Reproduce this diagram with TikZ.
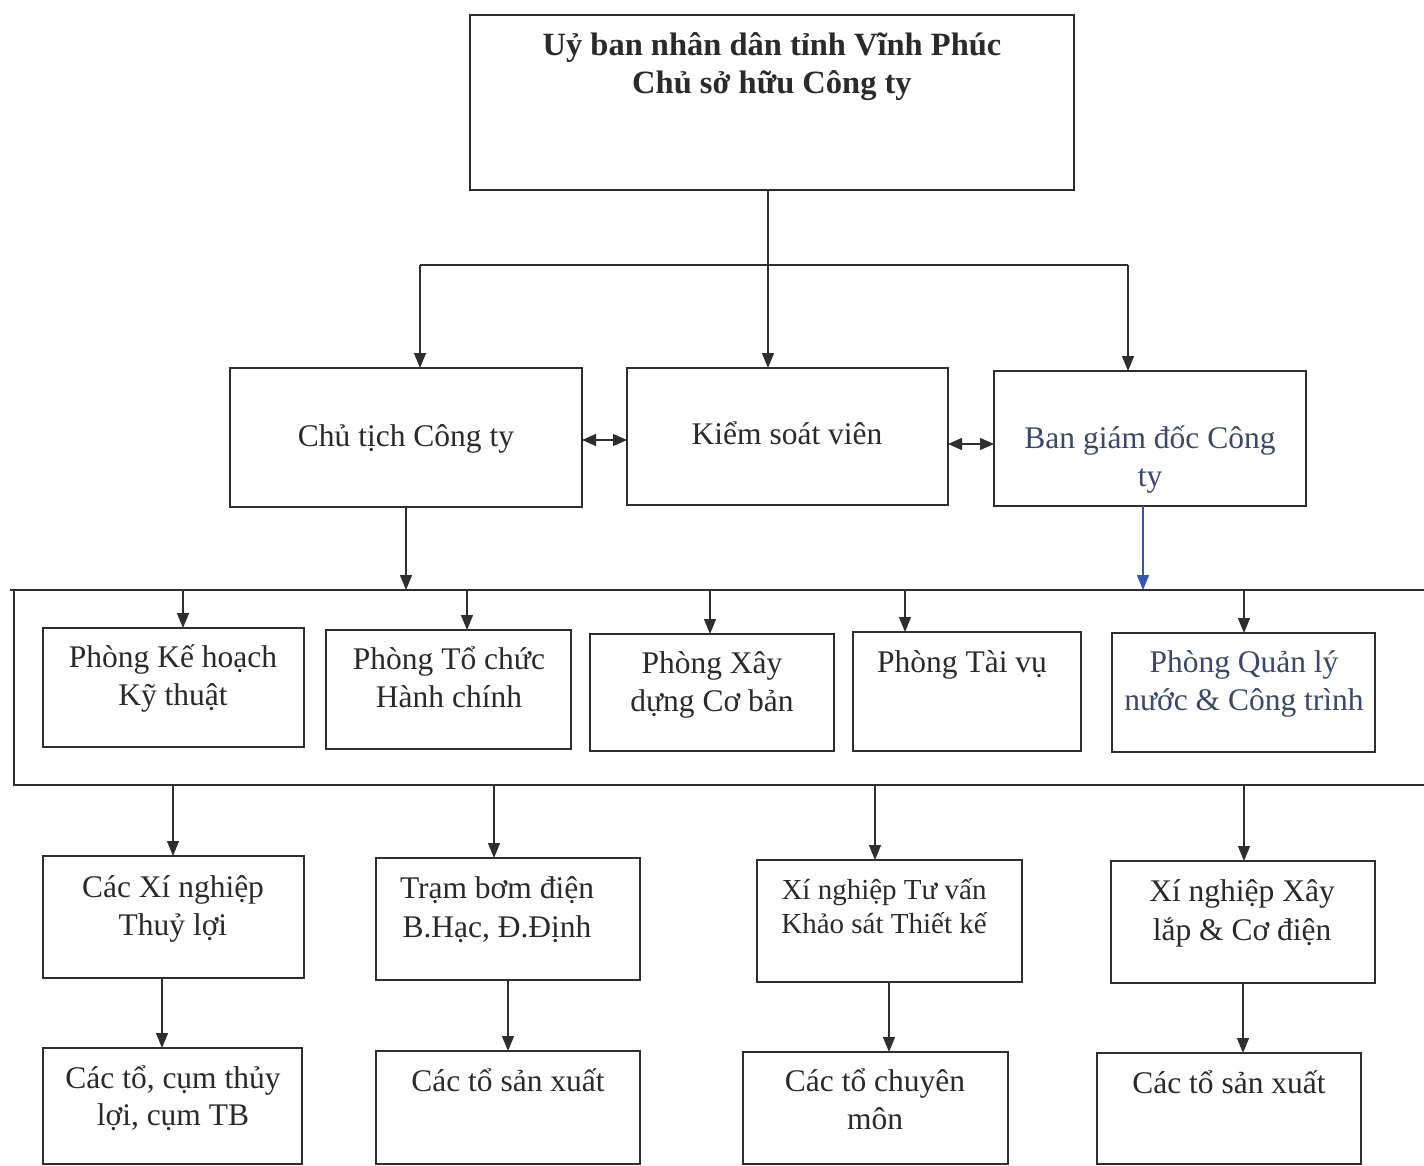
\documentclass[tikz,border=0pt]{standalone}
\usepackage{fontspec}
\setmainfont{Liberation Serif}
\usetikzlibrary{arrows.meta}
\definecolor{ln}{HTML}{2E2E2E}
\definecolor{tx}{HTML}{2A2A2A}
\definecolor{btx}{HTML}{3C4866}
\definecolor{blu}{HTML}{3355B5}
\begin{document}
\begin{tikzpicture}[x=1pt,y=-1pt,
  box/.style={draw=ln,line width=1.3pt,inner sep=0pt,outer sep=0pt,anchor=north west},
  lbl/.style={anchor=base,align=center,text=tx,font=\fontsize{31.5}{38}\selectfont,inner sep=0pt},
  conn/.style={draw=ln,line width=1.3pt},
  arr/.style={conn,-{Triangle[length=15pt,width=12pt]}},
  darr/.style={conn,{Triangle[length=14pt,width=12pt]}-{Triangle[length=14pt,width=12pt]}}]
\useasboundingbox (0,0) rectangle (1424,1166);
% top
\node[box,minimum width=604pt,minimum height=175pt] (top) at (470,15) {};
\node[lbl,font=\fontsize{32.5}{38}\selectfont\bfseries] (toptx) at (772,94) {Uỷ ban nhân dân tỉnh Vĩnh Phúc\\Chủ sở hữu Công ty};
% row 2
\node[box,minimum width=352pt,minimum height=139pt] (ct) at (230,368) {};
\node[lbl] (cttx) at (406,446) {Chủ tịch Công ty};
\node[box,minimum width=321pt,minimum height=137pt] (ks) at (627,368) {};
\node[lbl] (kstx) at (787,444) {Kiểm soát viên};
\node[box,minimum width=312pt,minimum height=135pt] (bg) at (994,371) {};
\node[lbl,text=btx] (bgtx) at (1150,486) {Ban giám đốc Công\\ty};
% row 3
\node[box,minimum width=261pt,minimum height=119pt] (b1) at (43,628) {};
\node[lbl] (b1tx) at (173,705) {Phòng Kế hoạch\\Kỹ thuật};
\node[box,minimum width=245pt,minimum height=119pt] (b2) at (326,630) {};
\node[lbl] (b2tx) at (449,707) {Phòng Tổ chức\\Hành chính};
\node[box,minimum width=244pt,minimum height=117pt] (b3) at (590,634) {};
\node[lbl] (b3tx) at (712,711) {Phòng Xây\\dựng Cơ bản};
\node[box,minimum width=228pt,minimum height=119pt] (b4) at (853,632) {};
\node[lbl] (b4tx) at (962,672) {Phòng Tài vụ};
\node[box,minimum width=263pt,minimum height=119pt] (b5) at (1112,633) {};
\node[lbl,text=btx] (b5tx) at (1244,710) {Phòng Quản lý\\nước \& Công trình};
% row 4
\node[box,minimum width=261pt,minimum height=122pt] (c1) at (43,856) {};
\node[lbl] (c1tx) at (173,935) {Các Xí nghiệp\\Thuỷ lợi};
\node[box,minimum width=264pt,minimum height=122pt] (c2) at (376,858) {};
\node[lbl,font=\fontsize{31.5}{39}\selectfont] (c2tx) at (497,937) {Trạm bơm điện\\B.Hạc, Đ.Định};
\node[box,minimum width=265pt,minimum height=122pt] (c3) at (757,860) {};
\node[lbl,font=\fontsize{29}{34}\selectfont] (c3tx) at (884,933) {Xí nghiệp Tư vấn\\Khảo sát Thiết kế};
\node[box,minimum width=264pt,minimum height=122pt] (c4) at (1111,861) {};
\node[lbl,font=\fontsize{31.5}{39}\selectfont] (c4tx) at (1242,940) {Xí nghiệp Xây\\lắp \& Cơ điện};
% row 5
\node[box,minimum width=259pt,minimum height=116pt] (d1) at (43,1048) {};
\node[lbl,font=\fontsize{31.5}{37}\selectfont] (d1tx) at (173,1125) {Các tổ, cụm thủy\\lợi, cụm TB};
\node[box,minimum width=264pt,minimum height=113pt] (d2) at (376,1051) {};
\node[lbl] (d2tx) at (508,1091) {Các tổ sản xuất};
\node[box,minimum width=265pt,minimum height=112pt] (d3) at (743,1052) {};
\node[lbl] (d3tx) at (875,1129) {Các tổ chuyên\\môn};
\node[box,minimum width=264pt,minimum height=111pt] (d4) at (1097,1053) {};
\node[lbl] (d4tx) at (1229,1093) {Các tổ sản xuất};
% connectors top
\coordinate (hl) at (420,265);
\coordinate (hr) at (1128,265);
\draw[conn] (hl) -- (hr);
\draw[arr] ([xshift=-4pt]top.south) -- ([xshift=-4pt]top.south |- ks.north);
\draw[arr] (hl) -- (hl |- ct.north);
\draw[arr] (hr) -- (hr |- bg.north);
\coordinate (y440) at (0,440);
\coordinate (y444) at (0,444);
\draw[darr] (ct.east |- y440) -- (ks.west |- y440);
\draw[darr] (ks.east |- y444) -- (bg.west |- y444);
% frame
\coordinate (fTL) at (10,590);
\coordinate (fTR) at (1424,590);
\coordinate (fLT) at (14,590);
\coordinate (fBL) at (14,785);
\coordinate (fBR) at (1424,785);
\draw[conn] (fTL) -- (fTR);
\draw[conn] (fLT) -- (fBL) -- (fBR);
\draw[arr] (ct.south) -- (ct.south |- fTL);
\draw[arr,draw=blu,-{Triangle[length=15pt,width=12pt,fill=blu]}] ([xshift=-7pt]bg.south) -- ([xshift=-7pt]bg.south |- fTL);
% frame to row 3
\coordinate (a1) at (183,590);
\coordinate (a2) at (467,590);
\coordinate (a3) at (710,590);
\coordinate (a4) at (905,590);
\coordinate (a5) at (1244,590);
\draw[arr] (a1) -- (a1 |- b1.north);
\draw[arr] (a2) -- (a2 |- b2.north);
\draw[arr] (a3) -- (a3 |- b3.north);
\draw[arr] (a4) -- (a4 |- b4.north);
\draw[arr] (a5) -- (a5 |- b5.north);
% frame to row 4
\coordinate (e1) at (173,785);
\coordinate (e2) at (494,785);
\coordinate (e3) at (875,785);
\coordinate (e4) at (1244,785);
\draw[arr] (e1) -- (e1 |- c1.north);
\draw[arr] (e2) -- (e2 |- c2.north);
\draw[arr] (e3) -- (e3 |- c3.north);
\draw[arr] (e4) -- (e4 |- c4.north);
% row 4 to row 5
\coordinate (g3) at (889,982);
\draw[arr] ([xshift=-11.5pt]c1.south) -- ([xshift=-11.5pt]c1.south |- d1.north);
\draw[arr] (c2.south) -- (c2.south |- d2.north);
\draw[arr] (g3) -- (g3 |- d3.north);
\draw[arr] (c4.south) -- (c4.south |- d4.north);
\end{tikzpicture}
\end{document}
